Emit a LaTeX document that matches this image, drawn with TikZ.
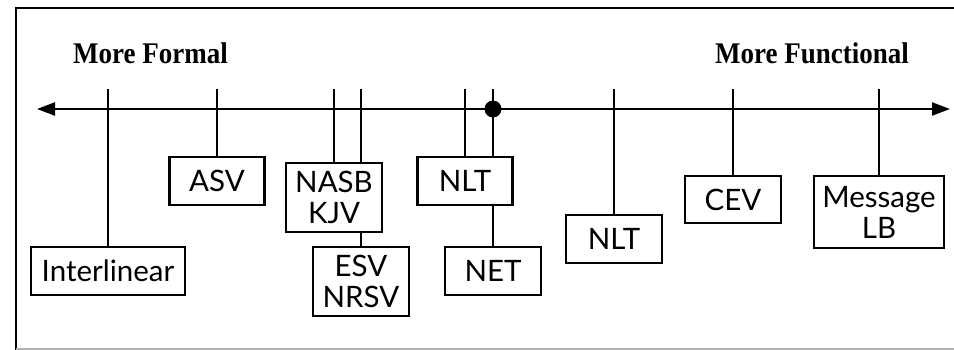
\documentclass[tikz,border=0pt]{standalone}
\usepackage{fontspec}
\usetikzlibrary{positioning,arrows.meta}
\newfontfamily\boxfont{Lato}
\newfontfamily\headfont[FakeStretch=0.9]{Liberation Serif}

\tikzset{
  version/.style={draw, align=center, line width=2.3pt, inner sep=0pt, font=\boxfont\fontsize{29.5}{31}\selectfont},
  tick/.style={line width=2.3pt},
  heading/.style={anchor=base west, inner sep=0pt, font=\headfont\bfseries\fontsize{30}{36}\selectfont}
}

\begin{document}
\begin{tikzpicture}[x=1pt,y=-1pt]
\useasboundingbox (0,0) rectangle (954,350);
% frame
\draw[line width=2.3pt] (16,350) -- (16,8) -- (954,8);
\draw[line width=1.5pt, black!30] (16,349) -- (954,349);

\node [heading] (formal) at (73,64) {More Formal};
\node [heading] (functional) at (715,64) {More Functional};

\coordinate (left) at (37,109);
\coordinate (right) at (950,109);
\draw[tick, {Triangle[length=18pt,width=13pt]}-{Triangle[length=18pt,width=13pt]}] (left) -- (right);

\node [version, minimum width=154pt, minimum height=48pt] (inter) at (108,271) {Interlinear};
\node [version, minimum width=95pt, minimum height=48pt] (asv) at (217,181) {ASV};
\node [version, minimum width=96pt, minimum height=69pt] (nasb) at (334,197.5) {NASB\\KJV};
\node [version, minimum width=96pt, minimum height=69pt] (esv) at (361,281.5) {ESV\\NRSV};
\node [version, minimum width=95pt, minimum height=48pt] (nlta) at (465,181) {NLT};
\node [version, minimum width=96pt, minimum height=48pt] (net) at (493,271) {NET};
\node [version, minimum width=96pt, minimum height=48pt] (nltb) at (614,239) {NLT};
\node [version, minimum width=96pt, minimum height=47pt] (cev) at (733,199.5) {CEV};
\node [version, minimum width=130pt, minimum height=72pt] (msg) at (879,212) {Message\\LB};

\coordinate (tinter) at (108,89);
\coordinate (tasv) at (217,89);
\coordinate (tnasb) at (334,89);
\coordinate (tesv) at (361,89);
\coordinate (tnlta) at (465,89);
\coordinate (tnet) at (493,89);
\coordinate (tnltb) at (614,89);
\coordinate (tcev) at (733,89);
\coordinate (tmsg) at (879,89);

\draw[tick] (tinter) -- (inter.north);
\draw[tick] (tasv) -- (asv.north);
\draw[tick] (tnasb) -- (nasb.north);
\draw[tick] (tesv) -- (tesv |- nasb.north);
\draw[tick] (nasb.south -| esv) -- (esv.north);
\draw[tick] (tnlta) -- (nlta.north);
\draw[tick] (tnet) -- (tnet |- nlta.north);
\draw[tick] (nlta.south -| net) -- (net.north);
\draw[tick] (tnltb) -- (nltb.north);
\draw[tick] (tcev) -- (cev.north);
\draw[tick] (tmsg) -- (msg.north);

\node [circle, fill, inner sep=0pt, minimum size=17pt] (dot) at (493,109) {};
\end{tikzpicture}
\end{document}
